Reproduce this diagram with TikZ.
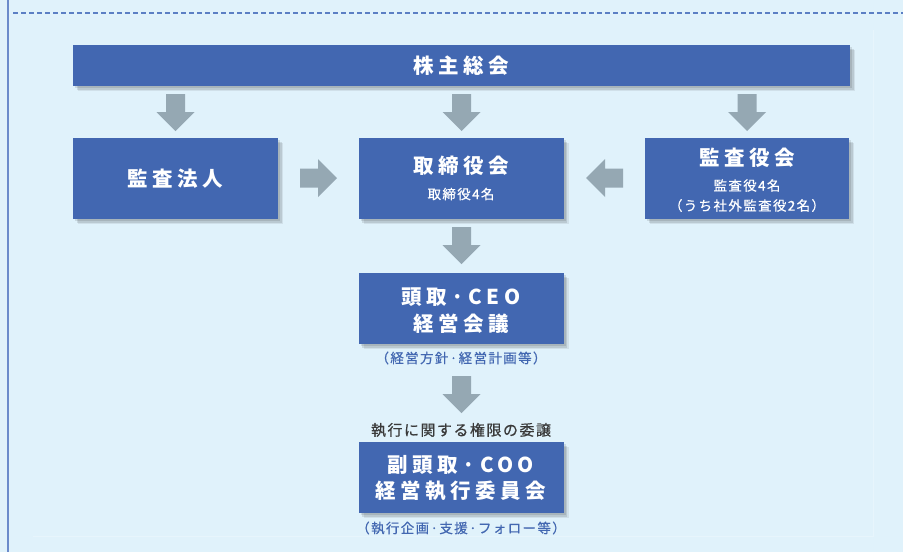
\documentclass[tikz,border=0pt]{standalone}
\usepackage{fontspec}
\newfontfamily\jp{Noto Sans CJK JP}[LetterSpace=22]
\newfontfamily\jpn{Noto Sans CJK JP}[LetterSpace=10, FakeBold=0.6]
\definecolor{bgc}{HTML}{E0F2FB}
\definecolor{boxc}{HTML}{4267B1}
\definecolor{arrc}{HTML}{95A8B3}
\definecolor{linec}{HTML}{6B8BCB}
\definecolor{dashc}{HTML}{5B7FC4}
\definecolor{darkt}{HTML}{3A3A3A}
\tikzset{
  box/.style={fill=boxc, inner sep=0pt,
    preaction={fill=black, opacity=0.10, transform canvas={xshift=2pt,yshift=-2pt}},
    preaction={fill=black, opacity=0.10, transform canvas={xshift=3.5pt,yshift=-3.5pt}},
    preaction={fill=black, opacity=0.07, transform canvas={xshift=5pt,yshift=-5pt}}},
  ttl/.style={text=white, font=\jp\bfseries\fontsize{20.5}{24}\selectfont, inner sep=0pt},
  sub/.style={text=white, font=\jpn\fontsize{13.5}{16}\selectfont, inner sep=0pt},
  note/.style={text=boxc, font=\jpn\fontsize{13.5}{16}\selectfont, inner sep=0pt},
  darr/.pic={\fill[arrc] (-9.5,0) -- (9.5,0) -- (9.5,18) -- (19,18) -- (0,37) -- (-19,18) -- (-9.5,18) -- cycle;},
  rarr/.pic={\fill[arrc] (0,-9.5) -- (18,-9.5) -- (18,-19) -- (37,0) -- (18,19) -- (18,9.5) -- (0,9.5) -- cycle;},
  larr/.pic={\fill[arrc] (0,-9.5) -- (-18,-9.5) -- (-18,-19) -- (-37,0) -- (-18,19) -- (-18,9.5) -- (0,9.5) -- cycle;}
}
\begin{document}
\begin{tikzpicture}[x=1pt,y=-1pt]
\fill[bgc] (0,0) rectangle (903,552);
\useasboundingbox (0,0) rectangle (903,552);
\draw[linec, line width=2pt] (7.5,0) -- (7.5,552);
\draw[dashc, line width=2pt, dash pattern=on 5pt off 3pt] (13,12.5) -- (903,12.5);
\draw[white, opacity=0.25, line width=1pt] (33,536) -- (873,536) -- (873,30);

% boxes
\node[box, minimum width=777, minimum height=41] (sh) at (461.5,65.5) {};
\node[ttl] (shT) at (461.5,65.5) {株主総会};
\node[box, minimum width=205, minimum height=81] (kh) at (175.5,178.5) {};
\node[ttl] (khT) at (175.5,179) {監査法人};
\node[box, minimum width=205, minimum height=81] (tr) at (461,178.5) {};
\node[ttl] (trT) at (461,166) {取締役会};
\node[sub] (trS) at (461,194) {取締役4名};
\node[box, minimum width=204, minimum height=81] (ky) at (747,178.5) {};
\node[ttl] (kyT) at (747,158) {監査役会};
\node[sub] (kyS1) at (747,185.5) {監査役4名};
\node[sub] (kyS2) at (747,205.5) {（うち社外監査役2名）};
\node[box, minimum width=205, minimum height=71] (ceo) at (461,308.5) {};
\node[ttl] (ceoT1) at (461,297) {頭取·CEO};
\node[ttl] (ceoT2) at (461,324) {経営会議};
\node[note] (ceoN) at (461,358) {（経営方針·経営計画等）};
\node[text=darkt, font=\jpn\fontsize{15}{18}\selectfont, inner sep=0pt] (del) at (461,430) {執行に関する権限の委譲};
\node[box, minimum width=205, minimum height=71] (coo) at (461,477.5) {};
\node[ttl] (cooT1) at (461,465) {副頭取·COO};
\node[ttl] (cooT2) at (461,491) {経営執行委員会};
\node[note] (cooN) at (461,528) {（執行企画·支援·フォロー等）};

% arrows
\pic at (175.5,94) {darr};
\pic at (461.5,94) {darr};
\pic at (747,94) {darr};
\pic at (300,178) {rarr};
\pic at (623,178) {larr};
\pic at (461.5,227) {darr};
\pic at (461.5,376) {darr};
\end{tikzpicture}
\end{document}
